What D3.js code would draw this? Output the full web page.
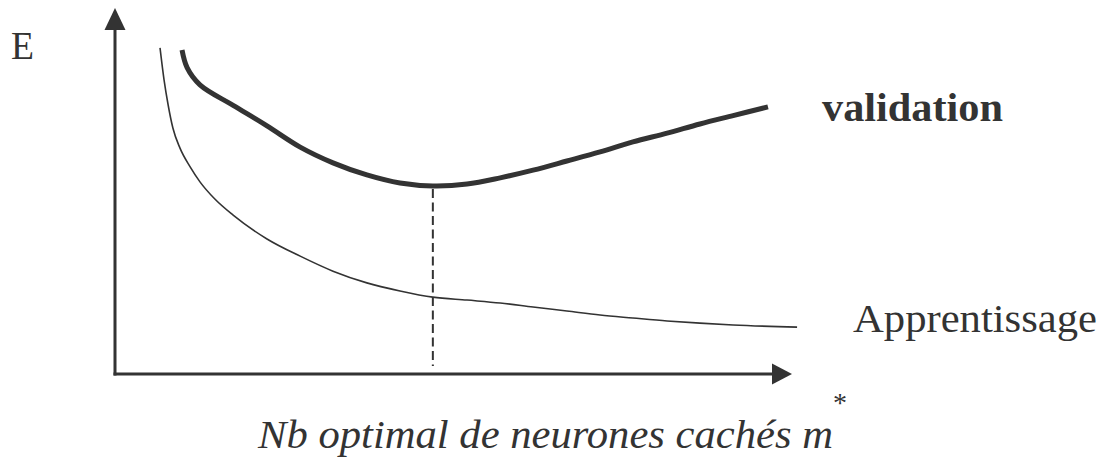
<!DOCTYPE html>
<html>
<head>
<meta charset="utf-8">
<script src="https://cdn.jsdelivr.net/npm/d3@7"></script>
<style>
html,body{margin:0;padding:0;background:#fff;}
svg{display:block;}
</style>
</head>
<body>
<svg id="chart" width="1103" height="460"></svg>
<script>
// ---- data (x: number of hidden neurons, arbitrary units; y: error E, arbitrary units)
const validationX = [1.98, 2.13, 2.51, 3.49, 4.49, 5.47, 6.44, 7.44, 8.42, 9.39, 10.40, 11.38, 12.35, 13.35, 14.33, 15.30, 16.31, 17.28, 18.26, 19.29];
const validationY = [8.85, 8.37, 7.90, 7.34, 6.78, 6.20, 5.77, 5.44, 5.22, 5.14, 5.19, 5.36, 5.57, 5.82, 6.07, 6.34, 6.58, 6.83, 7.06, 7.30];
const trainingX = [1.33, 1.45, 1.57, 1.71, 1.92, 2.22, 2.51, 2.95, 3.49, 4.49, 5.47, 6.44, 7.44, 8.42, 9.39, 10.40, 11.38, 12.35, 13.35, 14.33, 15.30, 16.31, 17.28, 18.26, 20.15];
const trainingY = [8.91, 8.03, 7.35, 6.72, 6.17, 5.66, 5.25, 4.78, 4.34, 3.69, 3.22, 2.81, 2.49, 2.27, 2.10, 2.02, 1.94, 1.83, 1.72, 1.61, 1.53, 1.45, 1.39, 1.34, 1.28];
const optimalM = 9.39;
const labels = {
  yAxis: "E",
  validation: "validation",
  training: "Apprentissage",
  xAxis: "Nb optimal de neurones cachés m",
  star: "*"
};

const ink = "#333333";
const svg = d3.select("#chart");
const x = d3.scaleLinear().domain([0, 20]).range([115, 792]);
const y = d3.scaleLinear().domain([0, 10]).range([374, 8]);

// axes
const x0 = x(0), y0 = y(0);
const xEnd = x.range()[1], yEnd = y.range()[1];
svg.append("line").attr("x1", x0).attr("y1", y0 + 1.5).attr("x2", x0).attr("y2", yEnd + 20)
  .attr("stroke", ink).attr("stroke-width", 3);
svg.append("line").attr("x1", x0 - 1.5).attr("y1", y0).attr("x2", xEnd - 18).attr("y2", y0)
  .attr("stroke", ink).attr("stroke-width", 3);
svg.append("path").attr("d", `M${x0},${yEnd} L${x0 + 10.5},${yEnd + 22} L${x0 - 10.5},${yEnd + 22} Z`).attr("fill", ink);
svg.append("path").attr("d", `M${xEnd},${y0} L${xEnd - 20},${y0 - 10.5} L${xEnd - 20},${y0 + 10.5} Z`).attr("fill", ink);

// curves
const trLine = d3.line().x(d => x(d[0])).y(d => y(d[1])).curve(d3.curveMonotoneX);
const valLine = d3.line().x(d => x(d[0])).y(d => y(d[1])).curve(d3.curveCatmullRom.alpha(0.5));
const valData = validationX.map((v, i) => [v, validationY[i]]);
const trData = trainingX.map((v, i) => [v, trainingY[i]]);

// dashed optimum line
const minVal = d3.min(validationY);
svg.append("line").attr("x1", x(optimalM)).attr("x2", x(optimalM))
  .attr("y1", y(minVal) + 3).attr("y2", y(0) - 8)
  .attr("stroke", ink).attr("stroke-width", 2).attr("stroke-dasharray", "9,4.5");

svg.append("path").datum(trData).attr("d", trLine)
  .attr("fill", "none").attr("stroke", ink).attr("stroke-width", 1.6);
svg.append("path").datum(valData).attr("d", valLine)
  .attr("fill", "none").attr("stroke", ink).attr("stroke-width", 5).attr("stroke-linecap", "butt");

// texts
const serif = "'Liberation Serif','Times New Roman',serif";
svg.append("text").attr("x", 11).attr("y", 59).text(labels.yAxis)
  .attr("font-family", serif).attr("font-size", 40).attr("fill", ink)
  .attr("textLength", 23).attr("lengthAdjust", "spacingAndGlyphs");
svg.append("text").attr("x", 822).attr("y", 121).text(labels.validation)
  .attr("font-family", serif).attr("font-size", 41).attr("font-weight", "bold").attr("fill", ink)
  .attr("textLength", 181).attr("lengthAdjust", "spacingAndGlyphs");
svg.append("text").attr("x", 853).attr("y", 332).text(labels.training)
  .attr("font-family", serif).attr("font-size", 39).attr("fill", ink)
  .attr("textLength", 244).attr("lengthAdjust", "spacingAndGlyphs");
svg.append("text").attr("x", 258).attr("y", 448).text(labels.xAxis)
  .attr("font-family", serif).attr("font-size", 39).attr("font-style", "italic").attr("fill", ink)
  .attr("textLength", 575).attr("lengthAdjust", "spacingAndGlyphs");
svg.append("text").attr("x", 833).attr("y", 412).text(labels.star)
  .attr("font-family", serif).attr("font-size", 28).attr("fill", ink);
</script>
</body>
</html>
